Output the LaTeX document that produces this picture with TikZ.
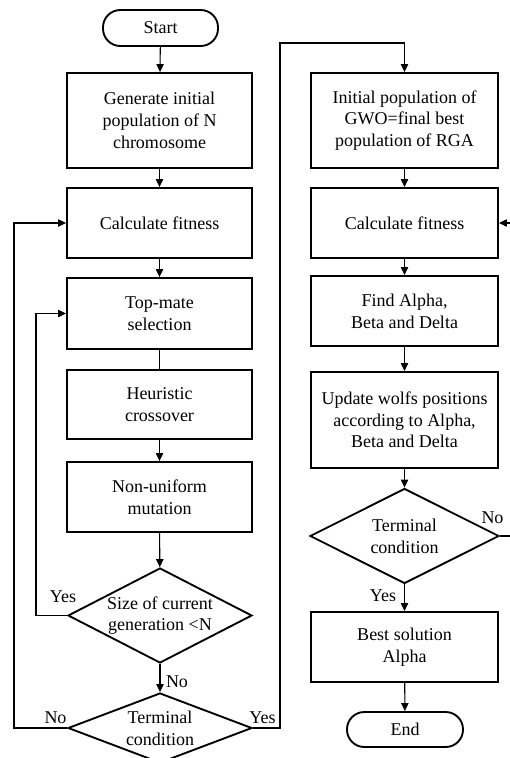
\documentclass[tikz,border=0pt]{standalone}
\usepackage{fontspec}
\setmainfont{Liberation Serif}
\usetikzlibrary{shapes.geometric,arrows.meta}
\begin{document}
\begin{tikzpicture}[x=0.75pt,y=-0.75pt,
  font=\fontsize{13.5}{16.3}\selectfont,
  box/.style={draw,line width=1.4pt,align=center,inner sep=0pt},
  lbox/.style={box,minimum width=138.75pt},
  rbox/.style={box,minimum width=140.25pt},
  term/.style={draw,line width=1.4pt,rounded corners=13pt,inner sep=0pt},
  dia/.style={draw,diamond,line width=1.4pt,inner sep=0pt},
  txt/.style={align=center,inner sep=0pt},
  lab/.style={inner sep=0pt},
  conn/.style={line width=0.8pt},
  arr/.style={conn,-{Triangle[length=6pt,width=5.5pt]}}]
\useasboundingbox (0,0) rectangle (510,758);
\clip (0,0) rectangle (510,758);
% left column
\node[term,minimum width=86.25pt,minimum height=27pt] (start) at (160.5,28) {Start};
\node[lbox,minimum height=71.25pt] (gen) at (159.5,120.5) {Generate initial\\population of N\\chromosome};
\node[lbox,minimum height=52.5pt] (fit) at (159.5,223) {Calculate fitness};
\node[lbox,minimum height=53.25pt] (top) at (159.5,313.5) {Top-mate\\selection};
\node[lbox,minimum height=51.75pt] (heu) at (159.5,404.5) {Heuristic\\crossover};
\node[lbox,minimum height=52.5pt] (mut) at (159.5,497) {Non-uniform\\mutation};
\node[dia,minimum width=138pt,minimum height=71.25pt] (d1) at (160,615.5) {};
\node[txt] (d1t) at (d1) {Size of current\\generation <N};
\node[dia,minimum width=138pt,minimum height=52.5pt] (d2) at (160,728) {};
\node[txt] (d2t) at (d2) {Terminal\\condition};
% right column
\node[rbox,minimum height=71.25pt] (ini) at (404.5,120.5) {Initial population of\\GWO=final best\\population of RGA};
\node[rbox,minimum height=52.5pt] (fit2) at (404.5,223) {Calculate fitness};
\node[rbox,minimum height=52.5pt] (find) at (404.5,311) {Find Alpha,\\Beta and Delta};
\node[rbox,minimum height=72pt] (upd) at (404.5,420) {Update wolfs positions\\according to Alpha,\\Beta and Delta};
\node[dia,minimum width=141.75pt,minimum height=71.25pt] (d3) at (404.5,536) {};
\node[txt] (d3t) at (d3) {Terminal\\condition};
\node[rbox,minimum height=52.5pt] (best) at (404.5,647) {Best solution\\Alpha};
\node[term,minimum width=87pt,minimum height=26.25pt] (end) at (405,729.5) {End};
% coordinates
\coordinate (c1a) at (36,615.5);
\coordinate (c1b) at (36,313.5);
\coordinate (c2a) at (14,728);
\coordinate (c2b) at (14,223);
\coordinate (c3a) at (280,728);
\coordinate (c3b) at (280,43);
\coordinate (c3c) at (404.5,43);
\coordinate (c4a) at (512,536);
\coordinate (c4b) at (512,223);
% connectors
\draw[arr] (start) -- (gen);
\draw[arr] (gen) -- (fit);
\draw[arr] (fit) -- (top);
\draw[conn] (top) -- (heu);
\draw[arr] (heu) -- (mut);
\draw[arr] (mut) -- (d1);
\draw[arr] (d1) -- (d2);
\draw[arr] (d1.west) -- (c1a) -- (c1b) -- (top.west);
\draw[arr] (d2.west) -- (c2a) -- (c2b) -- (fit.west);
\draw[arr] (d2.east) -- (c3a) -- (c3b) -- (c3c) -- (ini.north);
\draw[arr] (ini) -- (fit2);
\draw[arr] (fit2) -- (find);
\draw[arr] (find) -- (upd);
\draw[arr] (upd) -- (d3);
\draw[arr] (d3) -- (best);
\draw[arr] (best) -- (end);
\draw[arr] (d3.east) -- (c4a) -- (c4b) -- (fit2.east);
% labels
\node[lab] (l1) at (63,597) {Yes};
\node[lab] (l2) at (177,682) {No};
\node[lab] (l3) at (55.5,718) {No};
\node[lab] (l4) at (262.5,718) {Yes};
\node[lab] (l5) at (492.5,518) {No};
\node[lab] (l6) at (383,596) {Yes};
\end{tikzpicture}
\end{document}
